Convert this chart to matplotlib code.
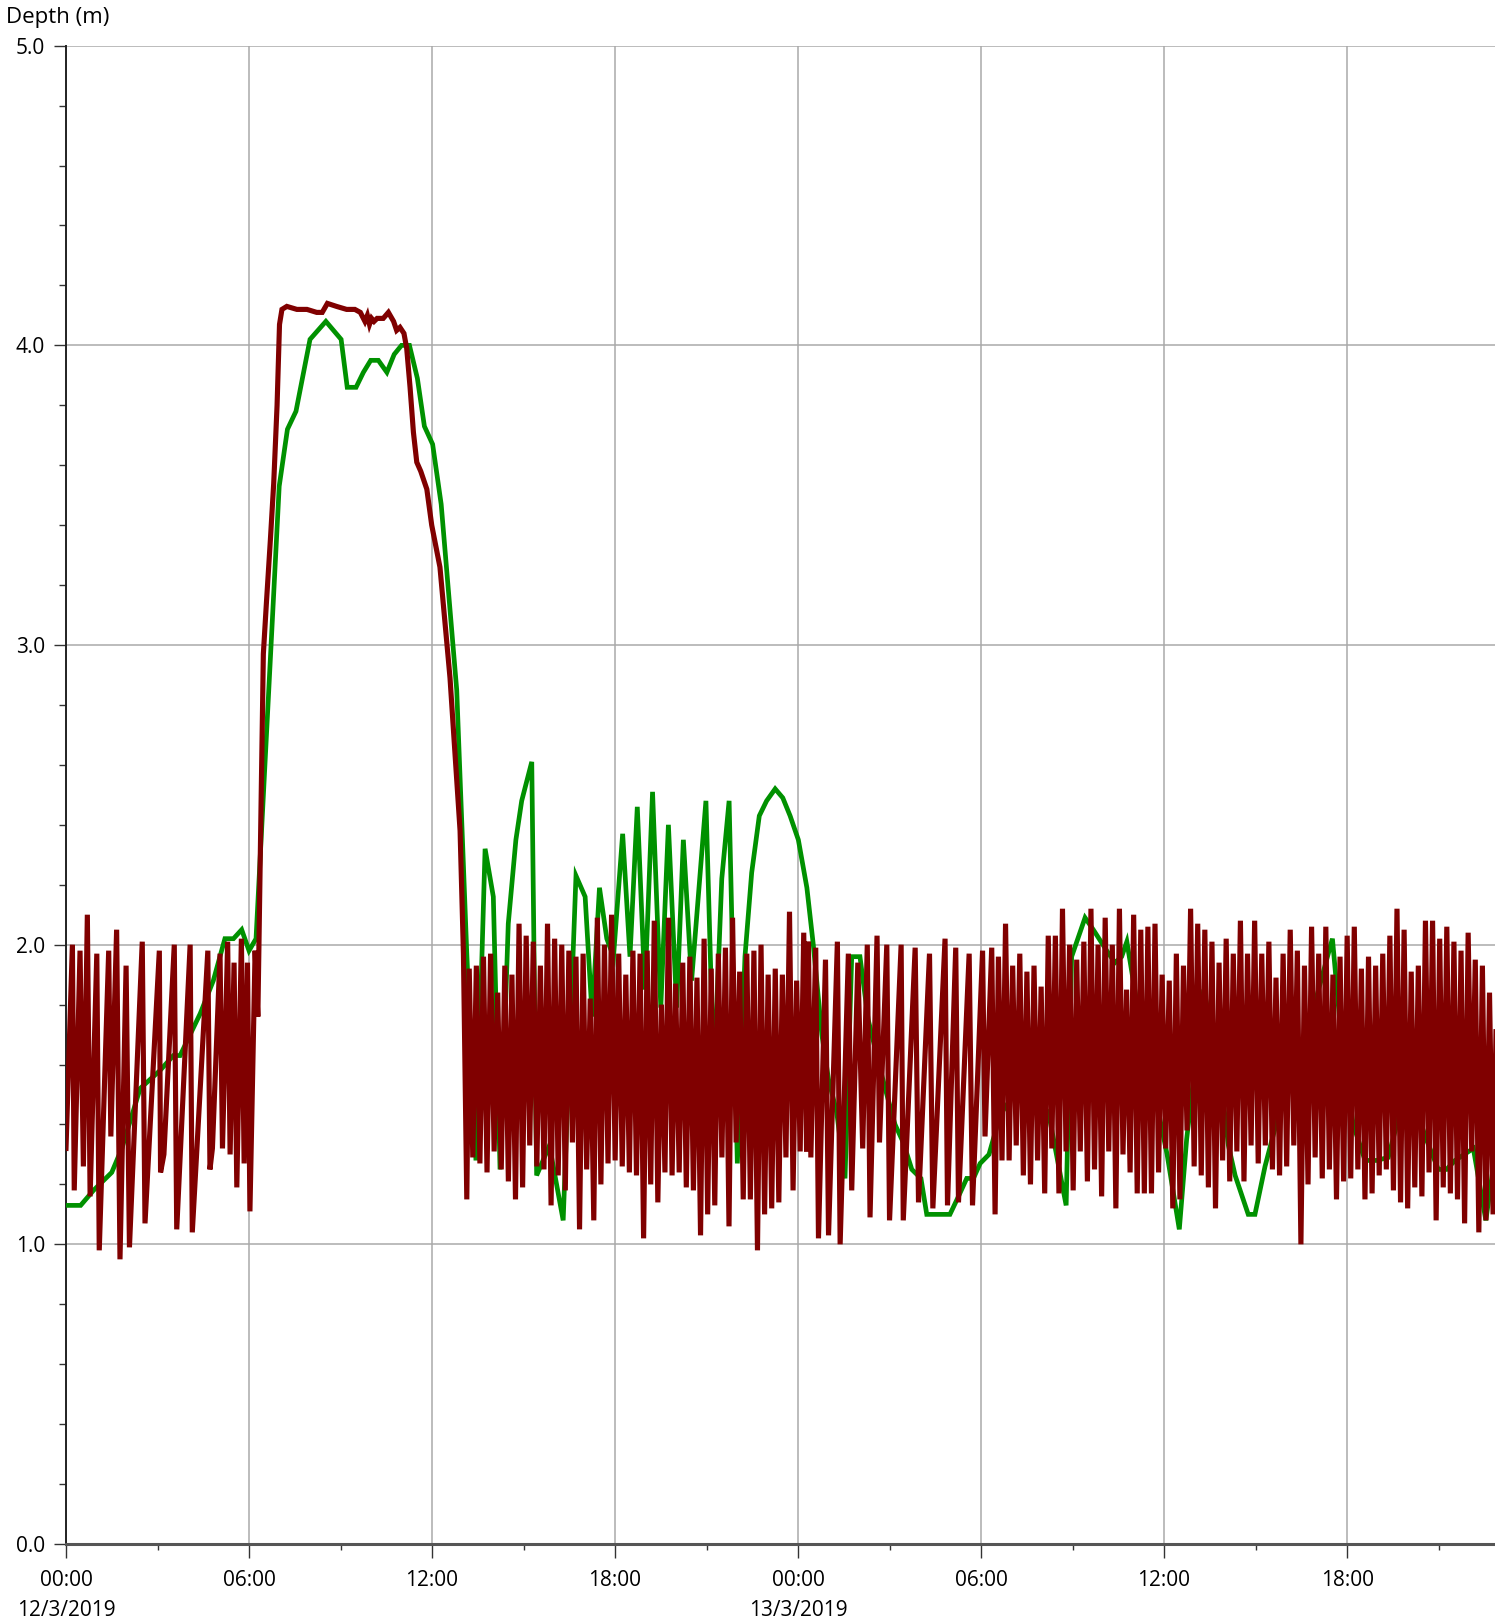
import numpy as np
import matplotlib
matplotlib.use("Agg")
import matplotlib.pyplot as plt
from matplotlib.ticker import MultipleLocator, FormatStrFormatter

plt.rcParams['font.family'] = ['Open Sans', 'DejaVu Sans']

# time axis: hours since 00:00 12/3/2019, depth in metres

# green gauge (roughly quarter-hourly)
green_hours = [0.00, 0.48, 0.90, 1.50, 1.83, 2.43, 3.08, 3.52, 3.74, 4.40, 4.83, 5.21, 5.49, 5.76, 6.00, 6.23,
               6.99, 7.26, 7.54, 8.00, 8.52, 9.02, 9.22, 9.51, 9.75, 9.99, 10.24, 10.52, 10.76, 11.00, 11.26, 11.52, 11.75, 12.02, 12.30, 12.81,
               13.14, 13.44, 13.74, 14.01, 14.23, 14.50, 14.75, 14.94, 15.27, 15.43, 15.85, 16.30, 16.72, 17.02, 17.25, 17.49, 17.73, 17.95, 18.25, 18.49, 18.73,
               18.98, 19.23, 19.50, 19.75, 20.02, 20.24, 20.51, 20.98, 21.24, 21.50, 21.74, 22.01, 22.26, 22.48, 22.73, 22.97, 23.25, 23.50, 23.74, 24.01, 24.29, 24.50, 24.78,
               25.00, 25.27, 25.54, 25.76, 26.03, 26.30, 26.63, 26.91, 27.18, 27.45, 27.73, 28.03, 28.22, 28.98, 29.26, 29.53, 29.75, 29.97, 30.26, 30.51, 30.68,
               31.20, 31.70, 32.21, 32.53, 32.79, 32.97, 33.41, 33.68, 34.12, 34.39, 34.61, 34.78, 35.20, 35.70, 36.10, 36.50, 36.74, 37.30, 37.80, 38.11, 38.33, 38.76, 38.98,
               39.31, 39.80, 40.20, 40.80, 41.33, 41.52, 41.80, 42.20, 42.59, 42.97, 43.35, 43.68, 44.10, 44.60, 44.99, 45.26, 45.54, 46.14, 46.55, 46.85]
green_depth = [1.13, 1.13, 1.18, 1.24, 1.32, 1.52, 1.58, 1.63, 1.63, 1.77, 1.88, 2.02, 2.02, 2.05, 1.98, 2.02,
               3.53, 3.72, 3.78, 4.02, 4.08, 4.02, 3.86, 3.86, 3.91, 3.95, 3.95, 3.91, 3.97, 4.00, 4.00, 3.89, 3.73, 3.67, 3.47, 2.85,
               1.97, 1.28, 2.32, 2.16, 1.25, 2.07, 2.35, 2.48, 2.61, 1.23, 1.33, 1.08, 2.23, 2.16, 1.76, 2.19, 2.02, 1.96, 2.37, 1.96, 2.46,
               1.85, 2.51, 1.79, 2.40, 1.79, 2.35, 1.88, 2.48, 1.55, 2.22, 2.48, 1.27, 1.96, 2.24, 2.43, 2.48, 2.52, 2.49, 2.43, 2.35, 2.19, 2.00, 1.70,
               1.55, 1.44, 1.22, 1.96, 1.96, 1.75, 1.61, 1.50, 1.40, 1.34, 1.25, 1.22, 1.10, 1.10, 1.16, 1.22, 1.22, 1.27, 1.30, 1.39, 1.44,
               1.52, 1.50, 1.44, 1.27, 1.13, 1.96, 2.09, 2.05, 1.98, 1.94, 1.96, 2.01, 1.75, 1.50, 1.30, 1.05, 1.35, 1.85, 1.60, 1.33, 1.23, 1.10, 1.10,
               1.26, 1.45, 1.55, 1.75, 1.95, 2.02, 1.70, 1.40, 1.28, 1.28, 1.29, 1.42, 1.50, 1.35, 1.25, 1.25, 1.28, 1.32, 1.08, 1.30]

# red gauge, first night (irregular readings)
red_night_hours = [0.00, 0.21, 0.27, 0.46, 0.57, 0.70, 0.79, 1.01, 1.09, 1.40, 1.47, 1.66, 1.77, 1.97, 2.08,
                   2.50, 2.59, 3.06, 3.10, 3.21, 3.55, 3.63, 4.07, 4.14, 4.65, 4.72, 4.80, 5.05, 5.13, 5.30,
                   5.38, 5.51, 5.60, 5.75, 5.84, 5.95, 6.03, 6.20, 6.29]
red_night_depth = [1.32, 2.00, 1.18, 1.98, 1.26, 2.10, 1.16, 1.97, 0.98, 1.98, 1.36, 2.05, 0.95, 1.93, 0.99,
                   2.01, 1.07, 1.98, 1.24, 1.30, 2.00, 1.05, 2.00, 1.04, 1.98, 1.25, 1.32, 1.97, 1.32, 2.01,
                   1.30, 1.94, 1.19, 2.02, 1.27, 1.94, 1.11, 1.98, 1.76]

# red gauge, high water event
red_high_hours = [6.47, 6.57, 6.70, 6.81, 6.92, 7.00, 7.08, 7.24, 7.57, 7.90, 8.22, 8.40, 8.57, 8.87, 9.20,
                  9.47, 9.65, 9.80, 9.88, 9.95, 10.02, 10.10, 10.20, 10.40, 10.57, 10.74, 10.84, 10.95, 11.08, 11.17,
                  11.28, 11.39, 11.50, 11.63, 11.83, 11.99, 12.26, 12.59, 12.92, 13.03, 13.14]
red_high_depth = [2.97, 3.14, 3.35, 3.54, 3.80, 4.07, 4.12, 4.13, 4.12, 4.12, 4.11, 4.11, 4.14, 4.13, 4.12,
                  4.12, 4.11, 4.08, 4.10, 4.07, 4.09, 4.08, 4.09, 4.09, 4.11, 4.08, 4.05, 4.06, 4.04, 3.99,
                  3.86, 3.71, 3.61, 3.58, 3.52, 3.40, 3.26, 2.89, 2.38, 1.97, 1.15]

# red gauge, 7 minute logging after the event
red_step_hours = 7 / 60
red_day1_start = 13.22
red_day1_depth = [1.92, 1.29, 1.93, 1.27, 1.96, 1.24, 1.97, 1.31, 1.84, 1.25,
                  1.93, 1.21, 1.90, 1.15, 2.07, 1.19, 2.03, 1.33, 2.01, 1.26,
                  1.93, 1.25, 2.07, 1.13, 2.02, 1.23, 2.00, 1.18, 1.98, 1.34,
                  1.96, 1.05, 1.97, 1.25, 1.82, 1.08, 2.09, 1.20, 2.00, 1.27,
                  2.10, 1.28, 1.97, 1.26, 1.90, 1.24, 1.98, 1.23, 1.97, 1.02,
                  1.98, 1.20, 2.08, 1.14, 1.80, 1.24, 2.09, 1.23, 1.87, 1.24,
                  1.94, 1.19, 1.96, 1.18, 1.89, 1.03, 2.02, 1.10, 1.92, 1.13,
                  1.97, 1.29, 1.99, 1.06, 2.09, 1.34, 1.91, 1.15, 1.97, 1.15,
                  1.98, 0.98, 2.00, 1.10, 1.90, 1.12, 1.92, 1.14, 1.90, 1.29,
                  2.11, 1.18, 1.88, 1.31, 2.04]

# red gauge, second night (sparser readings)
red_sparse_hours = [24.28, 24.34, 24.42, 24.58, 24.67, 24.90, 25.00, 25.29, 25.38, 25.65,
                    25.76, 25.96, 26.12, 26.27, 26.36, 26.59, 26.67, 26.91, 27.00, 27.38,
                    27.45, 27.84, 27.95, 28.31, 28.42, 28.82, 28.90, 29.17, 29.26, 29.61,
                    29.72, 30.05, 30.13, 30.35, 30.46]
red_sparse_depth = [1.31, 2.01, 1.29, 1.99, 1.02, 1.95, 1.03, 2.01, 1.00, 1.97,
                    1.18, 1.94, 1.32, 2.00, 1.09, 2.03, 1.34, 2.00, 1.08, 2.00,
                    1.08, 1.99, 1.14, 1.97, 1.12, 2.02, 1.13, 1.99, 1.14, 1.97,
                    1.13, 1.98, 1.36, 1.99, 1.10]

red_day2_start = 30.57
red_day2_depth = [1.96, 1.28, 2.07, 1.28, 1.93, 1.33, 1.97, 1.23, 1.91, 1.20,
                  1.93, 1.28, 1.86, 1.17, 2.03, 1.32, 2.03, 1.17, 2.12, 1.31,
                  2.00, 1.18, 1.95, 1.31, 2.01, 1.21, 2.12, 1.25, 2.00, 1.16,
                  2.09, 1.31, 2.00, 1.12, 2.12, 1.30, 1.85, 1.24, 2.10, 1.17,
                  2.05, 1.17, 2.06, 1.17, 2.07, 1.24, 1.90, 1.32, 1.88, 1.12,
                  1.97, 1.15, 1.93, 1.38, 2.12, 1.26, 2.07, 1.23, 2.05, 1.19,
                  2.01, 1.12, 1.94, 1.28, 2.02, 1.21, 1.97, 1.31, 2.08, 1.21,
                  1.97, 1.33, 2.08, 1.27, 1.97, 1.33, 2.01, 1.25, 1.89, 1.23,
                  1.97, 1.26, 2.05, 1.33, 1.98, 1.00, 1.93, 1.20, 2.06, 1.29,
                  1.97, 1.22, 2.06, 1.25, 1.90, 1.15, 1.96, 1.21, 2.03, 1.22,
                  2.06, 1.25, 1.92, 1.15, 1.96, 1.17, 1.93, 1.23, 1.97, 1.25,
                  2.03, 1.18, 2.12, 1.14, 2.05, 1.12, 1.91, 1.19, 1.93, 1.16,
                  2.08, 1.24, 2.08, 1.08, 2.02, 1.19, 2.06, 1.17, 2.01, 1.15,
                  1.98, 1.07, 2.04, 1.31, 1.95, 1.04, 1.93, 1.08, 1.84, 1.10,
                  1.84]

x_tick_hours = [0, 6, 12, 18, 24, 30, 36, 42]
x_tick_labels = ["00:00\n12/3/2019", "06:00", "12:00", "18:00", "00:00\n13/3/2019", "06:00", "12:00", "18:00"]
x_end_hours = 46.85


def regularHours(start, count):
    return start + np.arange(count) * red_step_hours


red_hours = np.concatenate([red_night_hours, red_high_hours,
                            regularHours(red_day1_start, len(red_day1_depth)),
                            red_sparse_hours,
                            regularHours(red_day2_start, len(red_day2_depth))])
red_depth = np.concatenate([red_night_depth, red_high_depth, red_day1_depth,
                            red_sparse_depth, red_day2_depth])

W, H = 1495, 1622
fig = plt.figure(figsize=(W / 100, H / 100), dpi=100)
ax = fig.add_axes([66 / W, 78 / H, (W - 66) / W, 1498.3 / H])

ax.plot(green_hours, green_depth, color='#009100', lw=3.4, solid_joinstyle='miter', zorder=3)
ax.plot(red_hours, red_depth, color='#800000', lw=3.7, solid_joinstyle='miter', zorder=4)

ax.set_xlim(0, x_end_hours)
ax.set_ylim(0, 5)

ax.set_xticks(x_tick_hours)
ax.set_xticklabels(x_tick_labels, linespacing=1.55)
ax.xaxis.set_minor_locator(MultipleLocator(3))
ax.yaxis.set_major_locator(MultipleLocator(1))
ax.yaxis.set_minor_locator(MultipleLocator(0.2))
ax.yaxis.set_major_formatter(FormatStrFormatter('%.1f'))

ax.grid(True, which='major', color='#a9a9a9', lw=1.1, zorder=0)
ax.tick_params(axis='x', which='major', length=10, width=1.0, pad=9, labelsize=15, color='#333333')
ax.tick_params(axis='x', which='minor', length=4.5, width=1.0, color='#333333')
ax.tick_params(axis='y', which='major', length=9, width=1.0, pad=6, labelsize=15, color='#333333')
ax.tick_params(axis='y', which='minor', length=5, width=1.0, color='#333333')

for side in ['top', 'right']:
    ax.spines[side].set_visible(False)
ax.spines['left'].set_color('#222222')
ax.spines['left'].set_linewidth(1.4)
ax.spines['bottom'].set_color('#555555')
ax.spines['bottom'].set_linewidth(2.2)

fig.text(6 / W, 1 - 17 / H, "Depth (m)", fontsize=16, ha='left', va='center')

fig.savefig('out.png', dpi=100)
